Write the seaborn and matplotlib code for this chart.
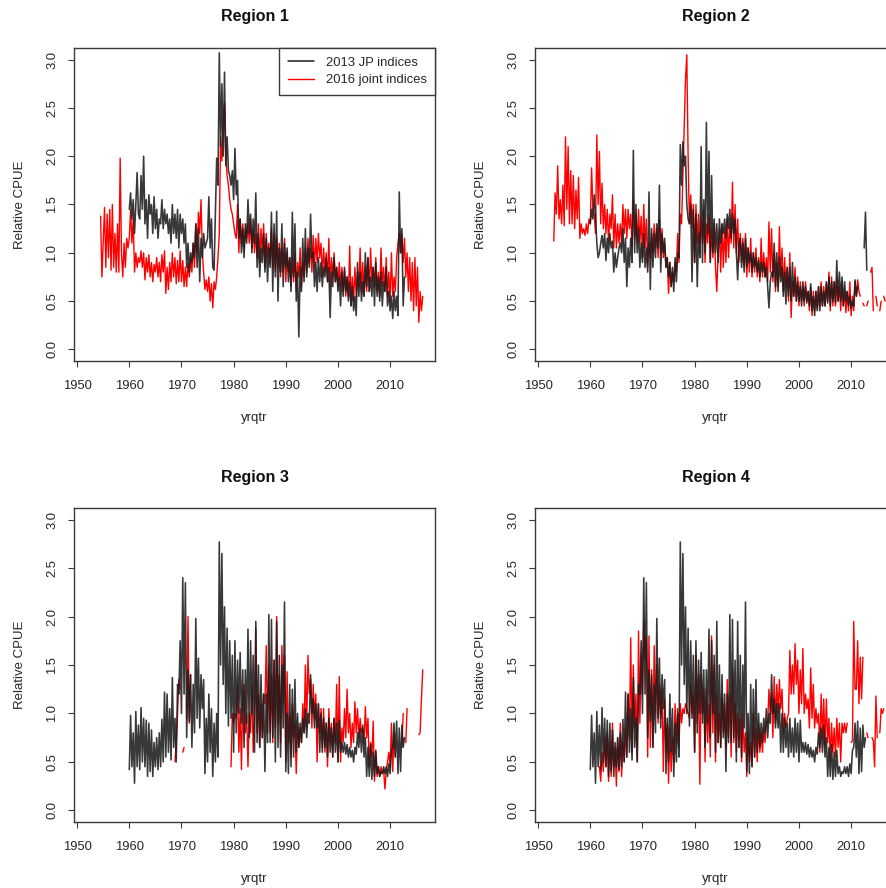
import numpy as np
import pandas as pd
import matplotlib
matplotlib.use("Agg")
import matplotlib.pyplot as plt
from matplotlib.lines import Line2D
import seaborn as sns

nan = np.nan

# ---------------- data (quarterly) ----------------
TITLES = ["Region 1", "Region 2", "Region 3", "Region 4"]
LEGEND_LABELS = ["2013 JP indices", "2016 joint indices"]
X_TICKS = [1950, 1960, 1970, 1980, 1990, 2000, 2010]
Y_TICKS = [0.0, 0.5, 1.0, 1.5, 2.0, 2.5, 3.0]

# Region 1 - 2013 JP indices, first quarter 1960.0
R1_JP_START = 1960.0
R1_JP = [
    1.45, 1.62, 1.35, 1.55,  1.20, 1.50, 1.83, 1.40,  1.35, 1.80, 1.45, 2.00,
    1.30, 1.55, 1.15, 1.60,  1.40, 1.50, 1.20, 1.58,  1.25, 1.45, 1.15, 1.35,
    1.30, 1.55, 1.25, 1.45,  1.30, 1.40, 1.20, 1.35,  1.10, 1.50, 1.20, 1.40,
    1.15, 1.45, 1.05, 1.40,  1.20, 1.35, 1.10, 1.30,  0.85, 1.10, 0.80, 1.00,
    0.90, 1.10, 0.95, 1.30,  0.85, 1.25, 0.70, 1.15,  0.95, 1.20, 1.05, 1.10,
    1.15, 1.58, 1.05, 1.35,  0.85, 0.82, 1.40, 1.98,  1.70, 3.07, 2.10, 2.75,
    2.00, 2.87, 1.90, 2.20,  1.85, 1.80, 1.70, 1.85,  1.55, 2.08, 1.60, 1.75,
    1.15, 1.35, 1.00, 1.25,  0.95, 1.30, 1.10, 1.55,  1.20, 1.40, 1.00, 1.35,
    1.10, 1.62, 0.85, 1.20,  0.75, 1.05, 0.90, 1.20,  0.80, 1.15, 0.70, 1.05,
    0.85, 1.42, 0.60, 1.30,  0.75, 1.43, 0.50, 1.05,  0.80, 1.30, 0.65, 1.10,
    0.85, 1.05, 0.70, 0.95,  0.60, 1.42, 0.75, 1.30,  0.50, 0.80, 0.13, 0.85,
    0.60, 1.15, 0.70, 1.25,  0.75, 1.05, 0.85, 1.40,  0.95, 1.00, 0.65, 0.90,
    0.60, 0.95, 0.70, 0.90,  0.65, 0.85, 0.75, 0.95,  0.70, 0.85, 0.33, 0.80,
    0.65, 0.95, 0.70, 0.85,  0.60, 0.75, 0.45, 0.80,  0.55, 0.85, 0.60, 0.75,
    0.50, 0.70, 0.45, 0.65,  0.40, 0.55, 0.35, 0.90,  0.55, 0.80, 0.50, 0.70,
    0.55, 1.00, 0.65, 0.95,  0.60, 0.75, 0.55, 0.85,  0.45, 0.90, 0.55, 0.75,
    0.50, 0.80, 0.45, 0.70,  0.60, 0.85, 0.45, 0.60,  0.40, 0.55, 0.32, 0.60,
    0.40, 0.55, 0.35, 1.63,  1.00, 1.25, 0.45, 0.75,
]

# Region 1 - 2016 joint indices, first quarter 1954.5
R1_JOINT_START = 1954.5
R1_JOINT = [
    1.38, 0.75,
    1.10, 1.47, 0.85, 1.40,  0.95, 1.45, 0.82, 1.50,  0.85, 1.20, 0.80, 1.30,
    0.80, 1.98, 1.00, 0.75,  1.10, 0.85, 1.15, 1.05,  1.15, 1.45, 1.10, 1.35,
    0.80, 1.00, 0.85, 0.95,  0.90, 1.02, 0.85, 1.00,  0.72, 0.95, 0.80, 0.98,
    0.75, 0.90, 0.70, 0.88,  0.80, 0.95, 0.75, 0.90,  0.70, 0.98, 0.80, 1.02,
    0.58, 0.85, 0.62, 0.90,  0.70, 1.00, 0.75, 0.95,  0.68, 0.92, 0.70, 1.02,
    0.70, 0.92, 0.65, 0.85,  0.65, 0.90, 0.75, 0.95,  0.80, 1.10, 0.85, 1.30,
    1.00, 1.42, 1.20, 1.55,  1.00, 0.80, 0.62, 0.72,  0.60, 0.75, 0.50, 0.68,
    0.43, 0.70, 0.62, 0.75,  0.95, 1.20, 2.20, 1.95,  2.30, 2.55, 2.00, 1.80,
    1.70, 1.55, 1.45, 1.40,  1.30, 1.20, 1.15, 1.50,  1.00, 1.35, 1.10, 1.30,
    1.05, 1.25, 1.15, 1.30,  1.10, 1.35, 1.05, 1.25,  1.00, 1.20, 0.95, 1.30,
    0.90, 1.25, 1.00, 1.30,  0.85, 1.20, 0.95, 1.10,  0.90, 1.25, 0.85, 1.20,
    0.80, 1.15, 0.85, 1.10,  0.75, 1.05, 0.80, 1.15,  0.70, 1.00, 0.80, 0.95,
    0.65, 0.95, 0.70, 1.00,  0.60, 0.90, 0.75, 1.05,  0.65, 0.90, 0.75, 1.05,
    0.80, 1.15, 0.90, 1.05,  0.80, 1.18, 0.85, 1.15,  0.90, 1.20, 0.95, 1.10,
    0.75, 1.05, 0.80, 1.00,  0.70, 1.15, 0.65, 0.95,  0.75, 1.00, 0.70, 0.85,
    0.65, 0.90, 0.65, 0.85,  0.60, 0.82, 0.55, 0.75,  0.55, 1.07, 0.45, 0.75,
    0.50, 0.85, 0.55, 0.80,  0.65, 1.05, 0.60, 0.90,  0.55, 0.85, 0.60, 0.95,
    0.60, 1.05, 0.70, 0.85,  0.65, 0.95, 0.60, 0.80,  0.55, 1.05, 0.65, 0.85,
    0.60, 0.95, 0.55, 0.80,  0.50, 1.00, 0.55, 0.75,  0.60, 0.95, 1.10, 1.20,
    1.00, 1.20, 0.90, 1.15,  0.75, 1.00, 0.60, 0.95,  0.50, 0.90, 0.40, 0.95,
    0.45, 0.85, 0.28, 0.60,  0.40, 0.55,
]

# Region 2 - 2013 JP indices, first quarter 1960.0
R2_JP_START = 1960.0
R2_JP = [
    1.30, 1.45, 1.35, 1.60,  1.40, 1.10, 0.95, 1.00,  1.10, 1.18, 1.05, 1.20,
    0.92, 1.15, 1.00, 1.20,  1.05, 1.12, 0.80, 1.00,  0.85, 0.95, 1.05, 1.10,
    1.00, 1.25, 0.90, 1.15,  0.65, 1.05, 0.85, 1.15,  0.90, 2.06, 1.00, 1.50,
    1.00, 1.25, 0.85, 1.10,  0.90, 1.20, 0.85, 1.05,  0.80, 1.63, 0.62, 1.25,
    0.85, 1.20, 0.95, 1.30,  1.05, 1.70, 0.80, 1.20,  1.00, 1.15, 0.85, 0.95,
    0.75, 0.90, 0.65, 0.85,  0.60, 0.95, 0.70, 1.00,  0.95, 2.12, 1.70, 2.15,
    1.90, 2.00, 1.50, 1.35,  1.30, 1.50, 0.70, 1.45,  0.90, 1.40, 0.65, 1.20,
    0.95, 2.10, 0.90, 1.55,  1.00, 2.35, 1.20, 2.05,  0.90, 1.80, 1.00, 1.35,
    1.00, 1.30, 0.90, 1.35,  1.10, 1.30, 1.20, 1.35,  1.15, 1.40, 1.25, 1.45,
    1.15, 1.40, 1.20, 1.35,  1.00, 0.72, 1.10, 1.15,  0.85, 1.10, 0.80, 1.15,
    0.85, 1.05, 0.90, 1.00,  0.80, 1.00, 0.85, 0.95,  0.80, 0.92, 0.75, 0.90,
    0.80, 0.90, 0.75, 0.85,  0.65, 0.43, 0.70, 0.80,  0.75, 1.10, 0.65, 1.00,
    0.60, 0.95, 0.70, 0.85,  0.55, 0.80, 0.47, 0.85,  0.55, 0.85, 0.50, 0.90,
    0.55, 0.75, 0.50, 0.70,  0.50, 0.65, 0.45, 0.70,  0.50, 0.65, 0.48, 0.60,
    0.45, 0.68, 0.40, 0.55,  0.35, 0.60, 0.40, 0.65,  0.40, 0.65, 0.45, 0.60,
    0.45, 0.70, 0.48, 0.75,  0.45, 0.70, 0.50, 0.70,  0.48, 0.92, 0.50, 0.80,
    0.50, 0.75, 0.45, 0.70,  0.50, 0.60, 0.45, 0.55,  0.42, 0.50, 0.45, 0.72,
    0.55, 0.65, nan, nan,    nan, nan, 1.05, 1.42,  0.82,
]

# Region 2 - 2016 joint indices, first quarter 1953.0
R2_JOINT_START = 1953.0
R2_JOINT = [
    1.12, 1.62, 1.40, 1.90,  1.35, 1.55, 1.30, 1.70,  1.28, 2.20, 1.45, 2.10,
    1.30, 1.85, 1.30, 1.80,  1.25, 1.65, 1.35, 1.78,  1.15, 1.30, 1.20, 1.25,
    1.18, 1.30, 1.20, 1.35,  1.30, 1.88, 1.45, 1.40,  1.20, 2.22, 1.50, 2.05,
    1.30, 1.72, 1.25, 1.50,  1.20, 1.45, 1.10, 1.40,  1.25, 1.60, 1.05, 1.40,
    1.05, 1.30, 1.10, 1.30,  1.10, 1.50, 1.20, 1.45,  1.15, 1.45, 1.25, 1.40,
    1.05, 1.55, 1.15, 1.40,  1.10, 1.45, 1.10, 1.38,  0.95, 1.50, 1.05, 1.35,
    0.85, 1.10, 0.95, 1.20,  1.00, 1.30, 1.05, 1.25,  0.95, 1.35, 1.00, 1.25,
    0.95, 1.10, 0.85, 0.95,  0.58, 0.90, 0.65, 0.80,  0.70, 0.90, 0.80, 1.20,
    0.90, 1.40, 1.30, 1.80,  2.30, 2.80, 3.05, 2.00,  1.30, 1.60, 1.25, 1.50,
    0.90, 1.50, 1.10, 1.40,  1.00, 1.35, 1.10, 1.45,  0.90, 1.30, 1.10, 1.40,
    0.90, 1.25, 0.95, 1.30,  0.85, 0.60, 1.00, 1.25,  0.80, 1.30, 0.85, 1.25,
    0.90, 1.35, 0.95, 1.30,  1.10, 1.73, 1.05, 1.50,  1.00, 1.35, 0.90, 1.20,
    0.90, 1.15, 0.85, 1.20,  0.75, 1.05, 0.80, 1.15,  0.75, 1.00, 0.80, 1.05,
    0.75, 0.95, 0.70, 1.15,  0.75, 1.00, 0.75, 0.95,  0.70, 1.32, 0.80, 1.25,
    0.70, 1.00, 0.60, 0.90,  0.65, 1.27, 0.75, 1.05,  0.60, 0.95, 0.65, 0.85,
    0.50, 1.00, 0.33, 0.70,  0.55, 0.85, 0.50, 0.75,  0.45, 0.70, 0.50, 0.65,
    0.45, 0.70, 0.50, 0.60,  0.40, 0.65, 0.35, 0.60,  0.40, 0.60, 0.42, 0.65,
    0.45, 0.70, 0.45, 0.65,  0.45, 0.68, 0.50, 0.80,  0.40, 0.75, 0.45, 0.70,
    0.45, 0.72, 0.50, 0.65,  0.40, 0.70, 0.45, 0.60,  0.38, 0.60, 0.40, 0.70,
    0.35, 0.55, 0.40, 0.70,  0.55, 0.72, 0.60, 0.55,  nan, 0.48, 0.45, nan,
    0.45, 0.50, nan, 0.80,   0.85, 0.40, nan, 0.55,   0.45, nan, 0.40, 0.50,
    nan, 0.55, 0.50,
]

# Regions 3 and 4 - 2013 JP indices (same series in both panels), first quarter 1960.0
R34_JP_START = 1960.0
R34_JP = [
    0.42, 0.98, 0.45, 0.80,  0.28, 1.02, 0.45, 0.88,  0.42, 1.06, 0.50, 0.95,
    0.45, 0.93, 0.35, 0.90,  0.40, 0.83, 0.35, 0.70,  0.45, 0.75, 0.42, 0.80,
    0.45, 0.94, 0.50, 1.22,  0.55, 1.20, 0.60, 1.05,  0.52, 1.37, 0.65, 0.95,
    0.50, 1.30, 1.20, 1.75,  1.00, 2.40, 1.20, 2.35,  0.75, 1.45, 0.92, 1.40,
    0.65, 1.30, 0.80, 1.98,  0.95, 1.57, 0.85, 1.40,  1.05, 1.35, 0.38, 0.95,
    0.50, 1.20, 0.60, 1.05,  0.35, 0.90, 0.50, 1.00,  0.55, 2.77, 1.50, 2.65,
    1.30, 2.10, 1.00, 1.88,  0.87, 1.75, 0.95, 1.60,  0.60, 1.75, 0.80, 1.55,
    1.00, 1.63, 0.90, 1.45,  0.65, 1.45, 0.90, 1.87,  0.75, 1.75, 1.00, 1.60,
    0.60, 1.95, 0.70, 1.50,  0.65, 1.40, 0.75, 1.20,  0.40, 1.20, 0.70, 2.02,
    0.70, 1.97, 0.75, 1.55,  0.50, 1.95, 0.65, 1.60,  0.55, 1.50, 0.85, 2.15,
    0.40, 1.00, 0.38, 1.30,  0.45, 1.25, 0.55, 1.35,  0.60, 1.00, 0.65, 0.90,
    0.70, 0.95, 0.80, 1.05,  0.75, 1.00, 0.90, 1.40,  1.00, 1.15, 0.85, 1.10,
    0.85, 1.10, 0.60, 1.00,  0.60, 0.95, 0.65, 0.90,  0.55, 0.95, 0.60, 0.85,
    0.55, 0.95, 0.60, 0.90,  0.50, 0.93, 0.60, 0.70,  0.60, 0.70, 0.58, 0.68,
    0.55, 0.65, 0.55, 0.62,  0.50, 0.65, 0.58, 0.80,  0.65, 0.85, 0.60, 0.88,
    0.55, 0.75, 0.35, 0.65,  0.35, 0.68, 0.32, 0.60,  0.35, 0.62, 0.38, 0.45,
    0.35, 0.40, 0.38, 0.45,  0.38, 0.45, 0.35, 0.48,  0.38, 0.62, 0.65, 0.90,
    0.55, 0.92, 0.38, 0.85,  0.40, 0.88, 0.65, 0.75,
]

# Region 3 - 2016 joint indices, first quarter 1968.75
R3_JOINT_START = 1968.75
R3_JOINT = [
    0.50,
    0.70, 1.00, 1.35, 1.25,  nan, 0.60, 0.65, nan,   0.95, 2.00, 0.90, 1.40,
    nan, nan, nan, nan,      nan, nan, nan, nan,     nan, nan, nan, nan,
    nan, nan, nan, nan,      nan, nan, nan, nan,     nan, nan, nan, nan,
    nan, nan, nan, nan,      nan, nan, 0.45, 1.00,  0.90, 1.00, 0.95, 1.30,
    0.60, 1.05, 0.42, 1.20,  1.30, 0.80, 1.00, 0.45,  1.00, 0.80, 1.30, 0.60,
    0.95, 1.88, 0.80, 1.20,  0.65, 1.10, 0.75, 1.20,  1.10, 1.70, 0.80, 1.50,
    0.80, 1.40, 0.70, 1.55,  0.85, 2.00, 0.90, 1.40,  0.70, 1.70, 1.10, 1.60,
    0.50, 1.43, 0.70, 1.00,  0.55, 1.10, 0.75, 0.90,  0.38, 0.90, 0.65, 0.85,
    0.70, 1.10, 0.80, 1.50,  0.85, 1.60, 1.20, 1.35,  0.85, 1.30, 0.95, 1.20,
    0.50, 1.10, 0.80, 1.05,  0.65, 1.05, 0.60, 0.90,  0.45, 1.05, 0.70, 0.90,
    0.55, 0.95, 0.70, 1.30,  0.50, 1.38, 0.50, 0.85,  0.70, 1.05, 0.75, 1.25,
    0.80, 1.00, 0.65, 0.90,  0.70, 1.12, 0.80, 1.05,  0.75, 0.95, 0.80, 0.85,
    0.70, 1.07, 0.75, 0.95,  0.45, 0.70, 0.55, 0.92,  0.30, 0.60, 0.35, 0.45,
    0.35, 0.45, 0.38, 0.42,  0.22, 0.40, 0.50, 0.60,  0.45, 0.90, 0.40, 0.80,
    0.55, nan, nan, nan,     nan, 0.65, 1.00, nan,   0.70, 1.05, nan, nan,
    nan, nan, nan, nan,      nan, nan, 0.78, 0.80,   1.15, 1.45,
]

# Region 4 - 2016 joint indices, first quarter 1961.75
R4_JOINT_START = 1961.75
R4_JOINT = [
    0.45,
    0.30, 0.60, 0.40, 0.75,  0.45, 0.80, 0.30, 0.70,  0.35, 0.90, 0.45, 0.65,
    0.25, 0.75, 0.40, 0.90,  0.35, 0.70, 0.50, 0.85,  0.55, 1.20, 0.75, 1.78,
    0.60, 1.50, 0.85, 1.20,  0.50, 1.85, 0.90, 1.60,  1.20, 1.95, 1.55, 1.80,
    0.55, 1.80, 0.65, 1.45,  0.65, 1.70, 1.00, 1.50,  0.90, 1.30, 0.95, 1.25,
    0.40, 1.15, 0.60, 0.90,  0.28, 0.85, 0.40, 0.75,  0.50, 1.10, 0.70, 1.05,
    0.65, 1.10, 0.90, 1.05,  1.00, 1.10, 1.05, 1.00,  0.95, 1.30, 1.00, 1.20,
    0.60, 1.60, 0.90, 1.40,  0.27, 1.40, 1.00, 1.25,  0.50, 1.25, 0.70, 1.10,
    0.55, 1.80, 0.80, 1.50,  0.50, 1.20, 0.70, 1.00,  0.65, 1.20, 0.80, 1.10,
    0.65, 1.35, 0.75, 1.20,  0.55, 1.45, 0.70, 1.10,  0.60, 1.00, 0.65, 0.95,
    0.50, 1.00, 0.60, 0.80,  0.35, 0.80, 0.50, 0.70,  0.45, 1.00, 0.55, 0.85,
    0.50, 0.90, 0.60, 0.80,  0.60, 0.85, 0.70, 0.90,  0.90, 1.25, 1.00, 1.20,
    0.75, 1.38, 0.90, 1.30,  1.00, 1.35, 1.05, 1.25,  0.80, 1.00, 0.85, 0.95,
    1.00, 1.65, 1.20, 1.50,  1.20, 1.72, 1.30, 1.55,  1.00, 1.45, 1.10, 1.67,
    1.00, 1.20, 1.05, 1.15,  0.85, 1.47, 0.95, 1.30,  0.85, 1.05, 0.90, 1.00,
    0.60, 1.20, 0.75, 1.15,  0.65, 1.15, 0.70, 0.95,  0.50, 0.90, 0.60, 0.85,
    0.55, 0.95, 0.65, 0.90,  0.50, 0.90, 0.80, 0.90,  0.80, 0.90, nan, nan,
    0.70, 0.72, 1.95, 1.25,  1.25, 1.75, 1.10, 1.58,  1.15, 1.58, nan, nan,
    0.80, 0.75, nan, nan,    0.75, 0.72, 0.45, 1.18,  0.75, nan, 0.80, 1.05,
    1.00, 1.05,
]

# ---------------- helpers ----------------
def to_frame(start, values):
    v = np.asarray(values, dtype=float)
    t = start + 0.25 * np.arange(len(v))
    seg = np.cumsum(np.isnan(v))
    df = pd.DataFrame({"yrqtr": t, "cpue": v, "seg": seg})
    return df.dropna()

panels = [
    (TITLES[0], (R1_JP_START, R1_JP), (R1_JOINT_START, R1_JOINT)),
    (TITLES[1], (R2_JP_START, R2_JP), (R2_JOINT_START, R2_JOINT)),
    (TITLES[2], (R34_JP_START, R34_JP), (R3_JOINT_START, R3_JOINT)),
    (TITLES[3], (R34_JP_START, R34_JP), (R4_JOINT_START, R4_JOINT)),
]

# ---------------- figure ----------------
sns.set_theme(style="white")
plt.rcParams["font.family"] = ["Liberation Sans", "DejaVu Sans"]

W, H = 887, 888
fig = plt.figure(figsize=(W / 100, H / 100), dpi=100)
fig.patch.set_facecolor("white")

# axes boxes in pixels: (left, top, right, bottom)
boxes = [(74, 48, 435, 361), (535, 48, 896, 361),
         (74, 508, 435, 822), (535, 508, 896, 822)]

AX_COL = "#3a3a3a"
TXT_COL = "#262626"
BLACK = "#1c1c1c"
RED = "#ff0000"

for i, (title, jp, joint) in enumerate(panels):
    l, t, r, b = boxes[i]
    ax = fig.add_axes([l / W, 1 - b / H, (r - l) / W, (b - t) / H])
    ax.set_facecolor("white")

    dj = to_frame(*joint)
    dk = to_frame(*jp)
    sns.lineplot(data=dj, x="yrqtr", y="cpue", units="seg", estimator=None,
                 color=RED, linewidth=1.0, ax=ax, legend=False, sort=False)
    sns.lineplot(data=dk, x="yrqtr", y="cpue", units="seg", estimator=None,
                 color=BLACK, linewidth=1.15, ax=ax, legend=False,
                 sort=False, alpha=0.88)

    ax.set_xlim(1949.4, 2018.6)
    ax.set_ylim(-0.12, 3.12)
    ax.set_xticks(X_TICKS)
    ax.set_yticks(Y_TICKS)
    ax.set_yticklabels([f"{v:.1f}" for v in Y_TICKS])
    ax.tick_params(axis="both", direction="out", length=4.5, width=0.8,
                   color=AX_COL, labelcolor=TXT_COL, labelsize=9.4,
                   bottom=True, left=True)
    ax.tick_params(axis="x", pad=9.5)
    ax.tick_params(axis="y", pad=7, labelrotation=90)
    for lab in ax.get_yticklabels():
        lab.set_va("center")
    for sp in ax.spines.values():
        sp.set_visible(True)
        sp.set_color(AX_COL)
        sp.set_linewidth(1.0)
    ax.grid(False)

    ax.set_xlabel("yrqtr", fontsize=9.5, color=TXT_COL)
    ax.set_ylabel("Relative CPUE", fontsize=9.5, color=TXT_COL)
    hpx = b - t
    ax.xaxis.set_label_coords(0.5, -57 / hpx)
    ax.xaxis.label.set_va("center")
    ax.yaxis.set_label_coords(-54 / (r - l), 0.5)
    ax.yaxis.label.set_va("center")

    fig.text(((l + r) / 2) / W, 1 - (t - 31) / H, title, ha="center",
             va="center", fontsize=11.5, fontweight="bold", color="#111111")

    if i == 0:
        handles = [Line2D([], [], color=BLACK, lw=1.1),
                   Line2D([], [], color=RED, lw=1.0)]
        leg = ax.legend(handles, LEGEND_LABELS, loc="upper right",
                        borderaxespad=0, fancybox=False, framealpha=1,
                        edgecolor=AX_COL, fontsize=9.4, handlelength=2.0,
                        handletextpad=0.9, borderpad=0.65, labelspacing=0.42)
        leg.get_frame().set_linewidth(1.0)
        for txt in leg.get_texts():
            txt.set_color(TXT_COL)

fig.savefig("out.png", dpi=100, facecolor="white")
